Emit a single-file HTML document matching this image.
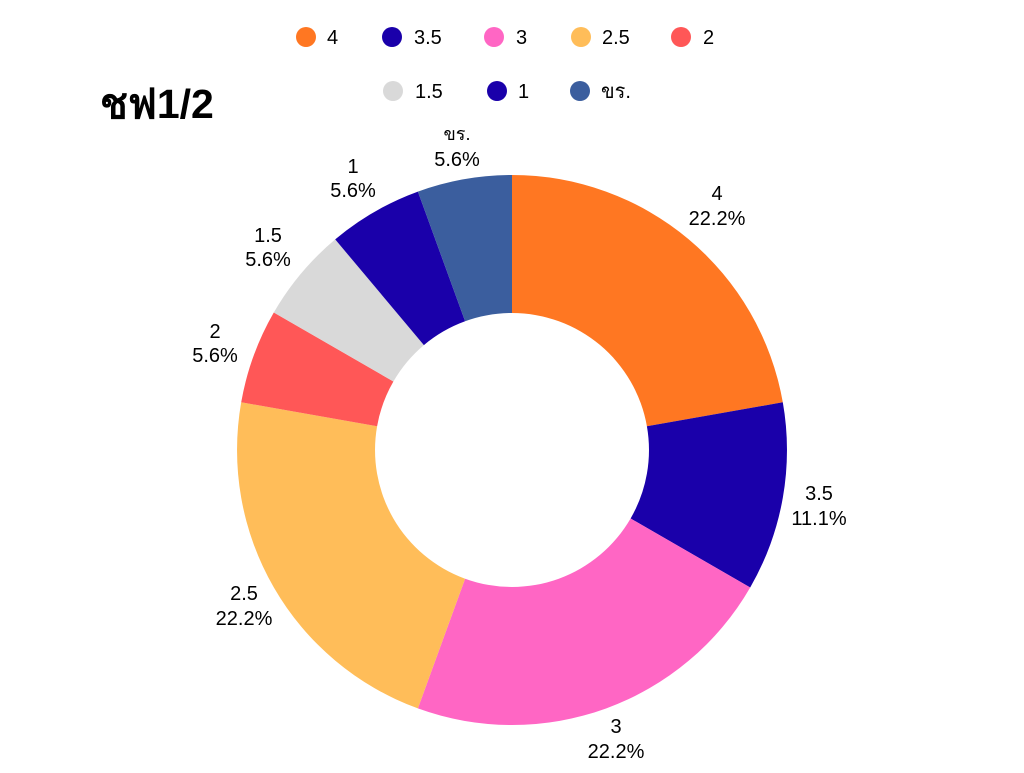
<!DOCTYPE html>
<html><head><meta charset="utf-8"><style>
html,body{margin:0;padding:0;background:#fff;}
svg text{font-family:"Liberation Sans","DejaVu Sans",sans-serif;fill:#000;}
</style></head><body>
<svg width="1024" height="768" viewBox="0 0 1024 768" xmlns="http://www.w3.org/2000/svg">
<rect width="1024" height="768" fill="#fff"/>
<g>
<path d="M512,175 A275,275 0 0 1 782.8,402.3 L646.9,426.2 A137,137 0 0 0 512,313 Z" fill="#FF7722"/>
<path d="M782.8,402.3 A275,275 0 0 1 750.2,587.5 L630.6,518.5 A137,137 0 0 0 646.9,426.2 Z" fill="#1A00AA"/>
<path d="M750.2,587.5 A275,275 0 0 1 417.9,708.4 L465.1,578.7 A137,137 0 0 0 630.6,518.5 Z" fill="#FF66C4"/>
<path d="M417.9,708.4 A275,275 0 0 1 241.2,402.3 L377.1,426.2 A137,137 0 0 0 465.1,578.7 Z" fill="#FFBD59"/>
<path d="M241.2,402.3 A275,275 0 0 1 273.8,312.5 L393.4,381.5 A137,137 0 0 0 377.1,426.2 Z" fill="#FF5757"/>
<path d="M273.8,312.5 A275,275 0 0 1 335.2,239.4 L423.9,345.1 A137,137 0 0 0 393.4,381.5 Z" fill="#D9D9D9"/>
<path d="M335.2,239.4 A275,275 0 0 1 417.9,191.6 L465.1,321.3 A137,137 0 0 0 423.9,345.1 Z" fill="#1A00AA"/>
<path d="M417.9,191.6 A275,275 0 0 1 512,175 L512,313 A137,137 0 0 0 465.1,321.3 Z" fill="#3B5E9E"/>
</g>
<text x="100" y="118" font-size="41" font-weight="bold">ชฟ1/2</text>
<g font-size="20">
<circle cx="306" cy="37" r="10" fill="#FF7722"/><text x="327" y="44">4</text>
<circle cx="392" cy="37" r="10" fill="#1A00AA"/><text x="414" y="44">3.5</text>
<circle cx="494" cy="37" r="10" fill="#FF66C4"/><text x="516" y="44">3</text>
<circle cx="581" cy="37" r="10" fill="#FFBD59"/><text x="602" y="44">2.5</text>
<circle cx="681" cy="37" r="10" fill="#FF5757"/><text x="703" y="44">2</text>
<circle cx="393" cy="91" r="10" fill="#D9D9D9"/><text x="415" y="98">1.5</text>
<circle cx="497" cy="91" r="10" fill="#1A00AA"/><text x="518" y="98">1</text>
<circle cx="580" cy="91" r="10" fill="#3B5E9E"/><text x="601" y="98">ขร.</text>
</g>
<g font-size="20" text-anchor="middle">
<text x="457" y="140" font-size="18">ขร.</text><text x="457" y="166">5.6%</text>
<text x="353" y="173">1</text><text x="353" y="197">5.6%</text>
<text x="268" y="242">1.5</text><text x="268" y="266">5.6%</text>
<text x="215" y="338">2</text><text x="215" y="362">5.6%</text>
<text x="717" y="200">4</text><text x="717" y="225">22.2%</text>
<text x="819" y="500">3.5</text><text x="819" y="525">11.1%</text>
<text x="616" y="733">3</text><text x="616" y="758">22.2%</text>
<text x="244" y="600">2.5</text><text x="244" y="625">22.2%</text>
</g>
</svg>
</body></html>
